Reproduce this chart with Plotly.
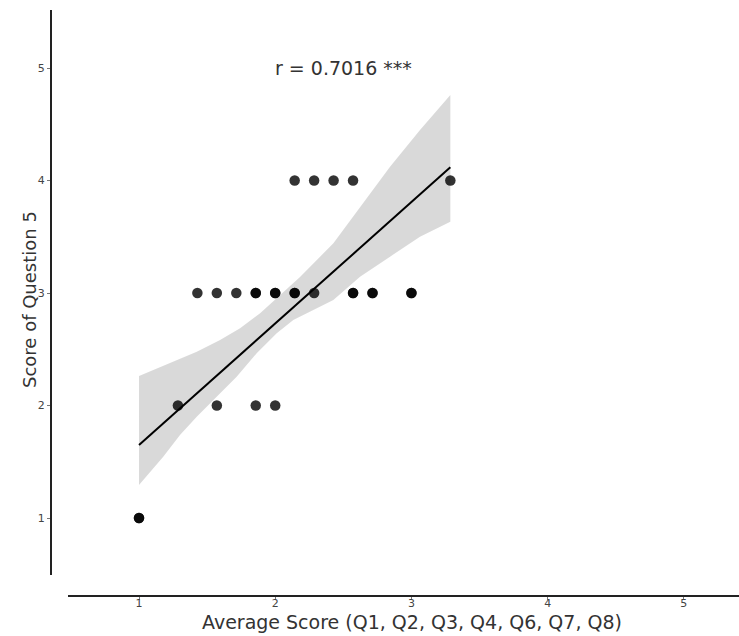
import plotly.graph_objects as go

# Scatter data (x = average score in sevenths, y = score of Q5); duplicates overlap
avg_score = [1.0, 1.0,
             9/7, 11/7, 13/7, 14/7,
             10/7, 11/7, 12/7, 13/7, 13/7, 14/7, 14/7, 15/7, 15/7, 16/7,
             18/7, 18/7, 19/7, 19/7, 21/7, 21/7,
             15/7, 16/7, 17/7, 18/7, 23/7]
q5_score = [1, 1,
            2, 2, 2, 2,
            3, 3, 3, 3, 3, 3, 3, 3, 3, 3,
            3, 3, 3, 3, 3, 3,
            4, 4, 4, 4, 4]

# Regression line and confidence band
fit_x = [1.0, 23/7]
fit_y = [1.649, 4.117]
band_up_x = [1.0, 1.228, 1.424, 1.595, 1.742, 1.889, 2.011, 2.182, 2.427, 2.623, 2.843, 3.063, 23/7]
band_up_y = [2.262, 2.375, 2.478, 2.582, 2.686, 2.820, 2.953, 3.142, 3.442, 3.767, 4.123, 4.449, 4.760]
band_lo_x = [1.0, 1.178, 1.301, 1.424, 1.570, 1.717, 1.864, 2.011, 2.133, 2.427, 2.623, 2.843, 3.063, 23/7]
band_lo_y = [1.293, 1.545, 1.738, 1.900, 2.078, 2.256, 2.464, 2.642, 2.760, 2.938, 3.145, 3.323, 3.500, 3.634]

tick_vals = [1, 2, 3, 4, 5]
tick_text = ["1", "2", "3", "4", "5"]
r_label = "r = 0.7016 ***"
x_title = "Average Score (Q1, Q2, Q3, Q4, Q6, Q7, Q8)"
y_title = "Score of Question 5"

W, H = 739, 636


def fx(px):  # window px -> paper fraction (x)
    return px / W


def fy(py):  # window px -> paper fraction (y from bottom)
    return (H - py) / H


FONT = "DejaVu Sans"
TXT = "#333333"

fig = go.Figure()

fig.add_trace(go.Scatter(
    x=avg_score, y=q5_score, mode="markers",
    marker=dict(color="black", size=10.5, opacity=0.8, line=dict(width=0)),
    showlegend=False, hoverinfo="x+y"))

band_x = band_up_x + band_lo_x[::-1]
band_y = band_up_y + band_lo_y[::-1]
fig.add_trace(go.Scatter(
    x=band_x, y=band_y, mode="lines", fill="toself",
    fillcolor="rgba(0,0,0,0.15)", line=dict(width=0),
    showlegend=False, hoverinfo="skip"))

fig.add_trace(go.Scatter(
    x=fit_x, y=fit_y, mode="lines", line=dict(color="black", width=2),
    showlegend=False))

fig.add_annotation(x=2.5, y=5, xref="x", yref="y", text=r_label, showarrow=False,
                   font=dict(family=FONT, size=19, color=TXT))

# axis titles
fig.add_annotation(x=fx(412), y=fy(622), xref="paper", yref="paper", text=x_title,
                   showarrow=False, xanchor="center", yanchor="middle",
                   font=dict(family=FONT, size=19, color=TXT))
fig.add_annotation(x=fx(29), y=fy(300), xref="paper", yref="paper", text=y_title,
                   showarrow=False, xanchor="center", yanchor="middle", textangle=-90,
                   font=dict(family=FONT, size=18, color=TXT))

axis_common = dict(showgrid=False, zeroline=False, showline=True, linewidth=2,
                   linecolor="#222222", ticks="outside", ticklen=3, tickwidth=1,
                   tickcolor="#777777", tickvals=tick_vals, ticktext=tick_text,
                   tickfont=dict(family=FONT, size=11, color="#444444"),
                   automargin=False)

fig.update_layout(
    width=W, height=H,
    margin=dict(l=0, r=0, t=0, b=0),
    paper_bgcolor="white", plot_bgcolor="white",
    xaxis=dict(domain=[fx(68), 1], range=[0.4787, 5.405], anchor="free",
               position=fy(596), ticklabelstandoff=-6, **axis_common),
    yaxis=dict(domain=[fy(575), fy(10)], range=[0.4933, 5.5156],
               anchor="free", position=fx(51), **axis_common),
)

fig.write_html("out.html", config={"displayModeBar": False},
               post_script="document.body.style.margin='0';document.body.style.overflow='hidden';")
